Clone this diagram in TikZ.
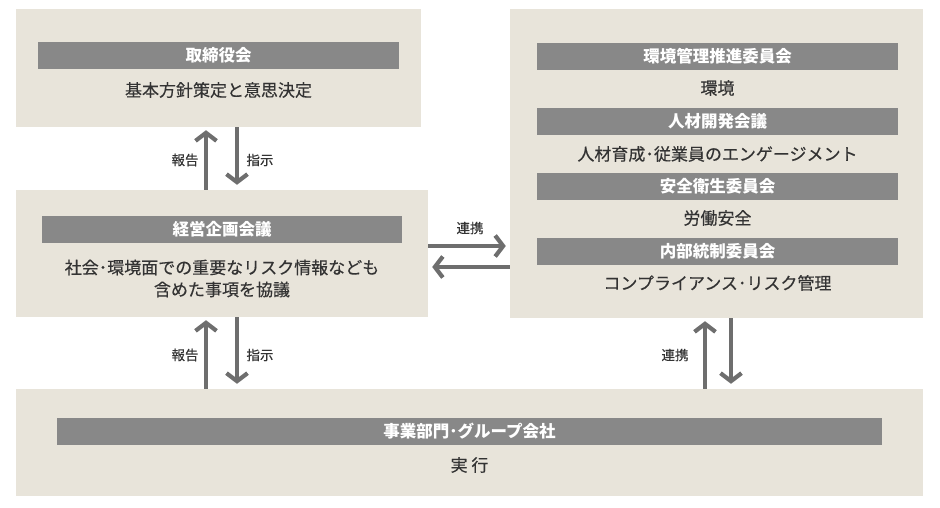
\documentclass[tikz,border=0pt]{standalone}
\usepackage{fontspec}
\setmainfont{Noto Sans CJK JP}
\newfontfamily\bodyfont{Noto Sans CJK JP}[FakeBold=0.35]
\usetikzlibrary{arrows.meta}

\definecolor{boxfill}{HTML}{E8E4DA}
\definecolor{barfill}{HTML}{888888}
\definecolor{arrowgray}{HTML}{6E6E6E}
\definecolor{textgray}{HTML}{333333}

\tikzset{
  panel/.style={fill=boxfill, inner sep=0pt},
  bar/.style={fill=barfill, text=white, font=\fontsize{16.5}{18}\selectfont\bfseries,
    minimum height=27pt, inner sep=0pt},
  body/.style={text=textgray, font=\fontsize{17}{22}\bodyfont, align=center},
  tag/.style={text=textgray, font=\fontsize{13.5}{15}\bodyfont},
  arr/.style={draw=arrowgray, line width=4.2pt,
    -{Straight Barb[length=8pt,width=21pt,line width=4.2pt]}}
}

\begin{document}
\begin{tikzpicture}[x=1pt,y=-1pt]

\useasboundingbox (0,0) rectangle (940,507);

% Board
\node[panel, minimum width=405pt, minimum height=118pt] (board) at (218.5,68) {};
\node[bar, minimum width=361pt] (boardbar) at (218.5,55) {取締役会};
\node[body] (boardtxt) at (218.5,90) {基本方針策定と意思決定};

% Management planning
\node[panel, minimum width=412pt, minimum height=127pt] (plan) at (222,253.5) {};
\node[bar, minimum width=360pt] (planbar) at (222,229.5) {経営企画会議};
\node[body] (plantxt) at (222,278.5)
{社会･環境面での重要なリスク情報なども\\含めた事項を協議};

% Committees
\node[panel, minimum width=413pt, minimum height=309pt] (comm) at (716.5,163.5) {};
\node[bar, minimum width=361pt] (envbar) at (717.5,56.5) {環境管理推進委員会};
\node[body] (envtxt) at (717.5,88) {環境};
\node[bar, minimum width=361pt] (hrbar) at (717.5,121.5) {人材開発会議};
\node[body] (hrtxt) at (717.5,154) {人材育成･従業員のエンゲージメント};
\node[bar, minimum width=361pt] (safebar) at (717.5,186) {安全衛生委員会};
\node[body] (safetxt) at (717.5,218) {労働安全};
\node[bar, minimum width=361pt] (ctrlbar) at (717.5,251) {内部統制委員会};
\node[body] (ctrltxt) at (717.5,283) {コンプライアンス･リスク管理};

% Business units
\node[panel, minimum width=907pt, minimum height=107pt] (unit) at (469.5,442.5) {};
\node[bar, minimum width=825pt] (unitbar) at (469.5,431) {事業部門･グループ会社};
\node[body] (unittxt) at (469.5,465) {実 行};

%--------------------------------------------------
% Arrows
%--------------------------------------------------
\draw[arr, shorten >=3pt] ([xshift=-12.5pt]board.south |- plan.north) -- ([xshift=-12.5pt]board.south);
\draw[arr, shorten >=5pt] ([xshift=18.5pt]board.south) -- ([xshift=18.5pt]board.south |- plan.north);
\node[tag] (rep1) at (185,160) {報告};
\node[tag] (ins1) at (260,160) {指示};

\draw[arr, shorten >=3pt] ([xshift=-16pt]plan.south |- unit.north) -- ([xshift=-16pt]plan.south);
\draw[arr, shorten >=5pt] ([xshift=15pt]plan.south) -- ([xshift=15pt]plan.south |- unit.north);
\node[tag] (rep2) at (185,355) {報告};
\node[tag] (ins2) at (260,355) {指示};

\draw[arr, shorten >=4pt] ([yshift=7.5pt]plan.east) -- ([yshift=7.5pt]plan.east -| comm.west);
\draw[arr, shorten >=4pt] ([yshift=-13.5pt]plan.east -| comm.west) -- ([yshift=-13.5pt]plan.east);
\node[tag] (link1) at (470,228) {連携};

\draw[arr, shorten >=3pt] ([xshift=-11.5pt]comm.south |- unit.north) -- ([xshift=-11.5pt]comm.south);
\draw[arr, shorten >=5pt] ([xshift=14.5pt]comm.south) -- ([xshift=14.5pt]comm.south |- unit.north);
\node[tag] (link2) at (675,355) {連携};

\end{tikzpicture}
\end{document}
